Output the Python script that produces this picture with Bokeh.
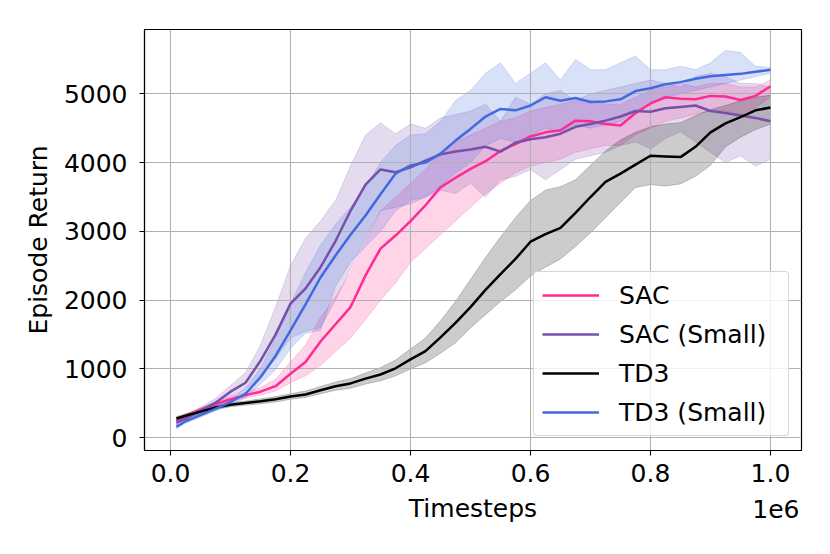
from bokeh.plotting import figure
from bokeh.models import Range1d, Legend, LegendItem, Label, NumeralTickFormatter, FixedTicker
from bokeh.embed import file_html
from bokeh.resources import INLINE

# ---- data (timesteps in units of 1e6) ----
timesteps = [0.01, 0.025, 0.05, 0.075, 0.1, 0.125, 0.15, 0.175, 0.2, 0.225, 0.25, 0.275, 0.3,
             0.325, 0.35, 0.375, 0.4, 0.425, 0.45, 0.475, 0.5, 0.525, 0.55, 0.575, 0.6, 0.625,
             0.65, 0.675, 0.7, 0.725, 0.75, 0.775, 0.8, 0.825, 0.85, 0.875, 0.9, 0.925, 0.95,
             0.975, 1.0]

sac_mean = [240, 310, 410, 490, 560, 620, 670, 750, 930, 1100, 1400, 1650, 1900, 2360, 2750,
            2940, 3150, 3380, 3640, 3780, 3910, 4020, 4170, 4270, 4380, 4440, 4470, 4610, 4600,
            4560, 4540, 4720, 4860, 4950, 4930, 4920, 4970, 4960, 4910, 4970, 5110]
sac_low = [200, 280, 380, 460, 525, 580, 620, 680, 800, 900, 1050, 1250, 1450, 1720, 2000,
           2250, 2550, 2750, 2950, 3150, 3350, 3550, 3700, 3850, 3950, 4000, 4050, 4150, 4200,
           4250, 4250, 4400, 4500, 4600, 4650, 4700, 4750, 4750, 4700, 4800, 4950]
sac_high = [280, 340, 440, 520, 600, 665, 730, 850, 1100, 1350, 1750, 2050, 2400, 2850, 3300,
            3500, 3700, 3900, 4150, 4300, 4400, 4500, 4600, 4650, 4750, 4800, 4850, 4900, 4900,
            4850, 4850, 4950, 5050, 5100, 5150, 5100, 5150, 5150, 5100, 5100, 5200]

sac_small_mean = [220, 280, 390, 510, 670, 800, 1120, 1500, 1950, 2170, 2480, 2860, 3300, 3680,
                  3900, 3860, 3930, 4030, 4120, 4160, 4190, 4230, 4160, 4290, 4340, 4370, 4420,
                  4520, 4560, 4610, 4670, 4750, 4740, 4790, 4810, 4830, 4750, 4720, 4685, 4650,
                  4600]
sac_small_low = [150, 230, 340, 460, 600, 700, 900, 1150, 1450, 1550, 1600, 2000, 2450, 2900,
                 3300, 3350, 3400, 3500, 3600, 3550, 3700, 3500, 3750, 3800, 3900, 3750, 3900,
                 4050, 4100, 4150, 4250, 4300, 4200, 4350, 4450, 4300, 4150, 4000, 4100, 3950,
                 4050]
sac_small_high = [290, 330, 440, 570, 760, 950, 1350, 1900, 2500, 2900, 3150, 3450, 3950, 4400,
                  4580, 4420, 4560, 4500, 4650, 4700, 4750, 4850, 4600, 4950, 4850, 5000, 5050,
                  4900, 5000, 5050, 5100, 5150, 5200, 5150, 5100, 5250, 5300, 5250, 5150, 5150,
                  5100]

td3_mean = [280, 320, 380, 440, 480, 505, 530, 560, 600, 630, 690, 750, 790, 860, 920, 1010,
            1140, 1260, 1460, 1670, 1900, 2150, 2380, 2600, 2850, 2960, 3050, 3270, 3500, 3720,
            3840, 3970, 4100, 4090, 4080, 4230, 4440, 4570, 4660, 4760, 4800]
td3_low = [250, 290, 350, 410, 450, 475, 495, 520, 560, 585, 640, 690, 720, 780, 830, 900,
           1000, 1090, 1230, 1380, 1600, 1790, 1980, 2150, 2350, 2480, 2600, 2780, 2980, 3200,
           3420, 3640, 3680, 3660, 3690, 3800, 3960, 4230, 4370, 4480, 4560]
td3_high = [310, 350, 410, 470, 510, 535, 565, 600, 640, 680, 745, 810, 860, 940, 1020, 1130,
            1290, 1450, 1700, 1980, 2300, 2620, 2920, 3200, 3450, 3600, 3650, 3750, 3960, 4170,
            4330, 4440, 4520, 4560, 4580, 4680, 4770, 4830, 4900, 4950, 4980]

td3_small_mean = [160, 240, 330, 420, 520, 640, 880, 1190, 1560, 1940, 2330, 2650, 2950, 3230,
                  3540, 3840, 3960, 4000, 4130, 4320, 4490, 4670, 4780, 4760, 4830, 4950, 4900,
                  4940, 4880, 4890, 4920, 5040, 5080, 5140, 5170, 5220, 5255, 5275, 5290, 5320,
                  5350]
td3_small_low = [130, 210, 300, 390, 480, 580, 780, 990, 1300, 1520, 1560, 2200, 2550, 2780,
                 3000, 3300, 3450, 3500, 3650, 3850, 4000, 4250, 4350, 4300, 4400, 4500, 4450,
                 4550, 4500, 4550, 4600, 4750, 4850, 4950, 5000, 5050, 5100, 5150, 5200, 5250,
                 5300]
td3_small_high = [200, 270, 360, 450, 560, 720, 1010, 1450, 1950, 2400, 2800, 3100, 3350, 3650,
                  4000, 4250, 4400, 4420, 4600, 4900, 5050, 5300, 5450, 5150, 5300, 5450, 5200,
                  5500, 5350, 5350, 5450, 5550, 5350, 5350, 5400, 5350, 5450, 5630, 5600, 5400,
                  5380]

series_names = ["SAC", "SAC (Small)", "TD3", "TD3 (Small)"]
x_ticks = [0.0, 0.2, 0.4, 0.6, 0.8, 1.0]
y_ticks = [0, 1000, 2000, 3000, 4000, 5000]
offset_text = "1e6"

colors = ["#FF2A92", "#7650AB", "#000000", "#4169E1"]
FONT = "DejaVu Sans"
FS = "25px"

X0, X1 = -0.0434, 1.0517
Y0, Y1 = -185, 5935
FH = 421

p = figure(frame_width=657, frame_height=FH,
           min_border_left=144, min_border_right=21, min_border_top=29, min_border_bottom=96,
           x_range=Range1d(X0, X1), y_range=Range1d(Y0, Y1),
           output_backend="svg", toolbar_location=None, tools="")
p.background_fill_color = "white"
p.border_fill_color = "white"
p.outline_line_color = "black"
p.outline_line_width = 1.2

series = [
    (sac_mean, sac_low, sac_high),
    (sac_small_mean, sac_small_low, sac_small_high),
    (td3_mean, td3_low, td3_high),
    (td3_small_mean, td3_small_low, td3_small_high),
]

# bands (drawn below grid)
for (m, lo, hi), c in zip(series, colors):
    px = list(timesteps) + list(reversed(timesteps))
    py = list(hi) + list(reversed(lo))
    p.patch(px, py, fill_color=c, fill_alpha=0.2, line_color=c, line_alpha=0.2,
            line_width=1, level="image")

items = []
for (m, lo, hi), c, name in zip(series, colors, series_names):
    r = p.line(timesteps, m, line_color=c, line_width=2.5)
    items.append(LegendItem(label=name, renderers=[r]))

legend = Legend(items=items, location=(389, 14))
legend.label_text_font = FONT
legend.label_text_font_size = FS
legend.label_text_color = "black"
legend.glyph_width = 57
legend.glyph_height = 30
legend.label_height = 30
legend.label_width = 161
legend.label_standoff = 20
legend.spacing = 9
legend.padding = 8
legend.margin = 0
legend.background_fill_color = "white"
legend.background_fill_alpha = 0.8
legend.border_line_color = "#cccccc"
legend.border_line_alpha = 0.8
legend.border_line_width = 1
legend.border_radius = 4
p.add_layout(legend)

# axes
p.xaxis.ticker = FixedTicker(ticks=x_ticks)
p.yaxis.ticker = FixedTicker(ticks=y_ticks)
p.xaxis.formatter = NumeralTickFormatter(format="0.0")
p.yaxis.formatter = NumeralTickFormatter(format="0")
p.xaxis.axis_label = "Timesteps"
p.yaxis.axis_label = "Episode Return"
for ax in (p.xaxis, p.yaxis):
    ax.axis_label_text_font = FONT
    ax.axis_label_text_font_size = FS
    ax.axis_label_text_font_style = "normal"
    ax.axis_label_text_color = "black"
    ax.major_label_text_font = FONT
    ax.major_label_text_font_size = FS
    ax.major_label_text_color = "black"
    ax.major_tick_out = 5
    ax.major_tick_in = 0
    ax.major_tick_line_color = "black"
    ax.major_tick_line_width = 1.1
    ax.minor_tick_line_color = None
    ax.axis_line_color = "black"
    ax.axis_line_width = 1.1
p.xaxis.major_label_standoff = 8
p.xaxis.axis_label_standoff = 9
p.yaxis.major_label_standoff = 12
p.yaxis.axis_label_standoff = 8

p.grid.grid_line_color = "#b0b0b0"
p.grid.grid_line_width = 1.1

# offset text "1e6" (placed in the below panel so it is not clipped to the frame)
y_per_px = (Y1 - Y0) / FH
lbl = Label(x=X1, y=Y0 - 58.5 * y_per_px, text=offset_text,
            text_align="right", text_baseline="middle", text_font=FONT,
            text_font_size=FS, text_color="black", x_offset=-2)
p.add_layout(lbl, "below")

open("out.html", "w").write(file_html(p, INLINE))
